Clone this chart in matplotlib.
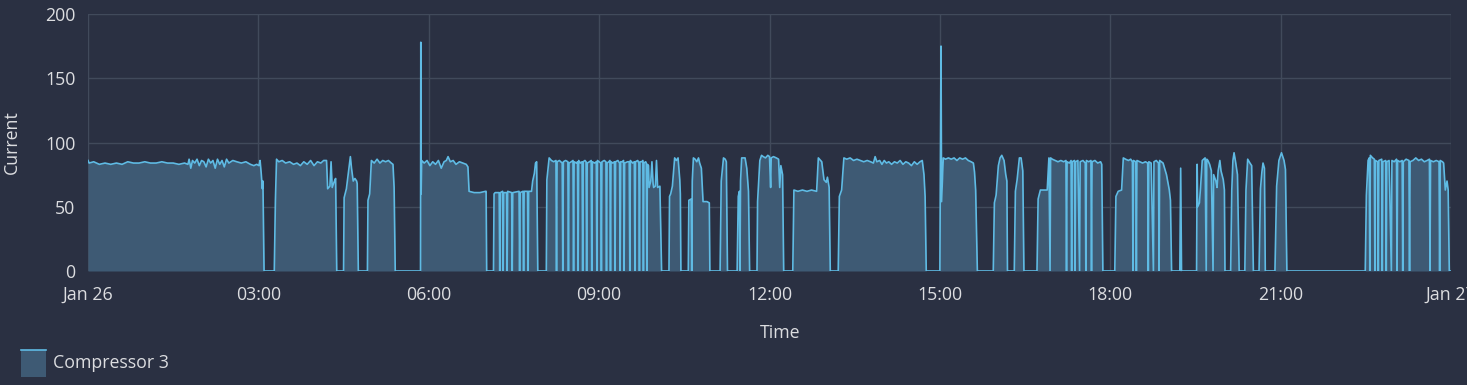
import matplotlib
matplotlib.use("Agg")
import matplotlib.pyplot as plt
from matplotlib.patches import Rectangle
from matplotlib.lines import Line2D
import pandas as pd

# ---------------- data: (hour of day, current) readings, one list per run ----------------
run_a = [(0.00, 86), (0.02, 84), (0.10, 85), (0.20, 83), (0.30, 84), (0.40, 83), (0.50, 84),
         (0.60, 83), (0.70, 85), (0.80, 84), (0.90, 84), (1.00, 85), (1.10, 84), (1.20, 84),
         (1.30, 85), (1.40, 84), (1.50, 84), (1.60, 83), (1.70, 84), (1.76, 83), (1.78, 87),
         (1.81, 80), (1.84, 86), (1.88, 84), (1.92, 87), (1.96, 82), (2.00, 86), (2.04, 85),
         (2.08, 81), (2.12, 87), (2.16, 84), (2.20, 86), (2.24, 80), (2.28, 87), (2.32, 83),
         (2.36, 86), (2.40, 81), (2.44, 87), (2.48, 84), (2.55, 86), (2.62, 85), (2.70, 84),
         (2.78, 85), (2.86, 83), (2.92, 82), (2.97, 83), (3.01, 82), (3.03, 86), (3.05, 76),
         (3.07, 64), (3.08, 70), (3.10, 0)]
run_b = [(3.28, 0), (3.30, 55), (3.32, 87), (3.36, 85), (3.42, 86), (3.48, 84), (3.55, 85),
         (3.62, 83), (3.68, 84), (3.74, 82), (3.80, 85), (3.86, 83), (3.92, 86), (3.98, 82),
         (4.04, 85), (4.10, 84), (4.15, 86), (4.20, 86), (4.22, 64), (4.26, 66), (4.28, 85),
         (4.30, 65), (4.34, 70), (4.36, 72), (4.38, 0)]
run_c = [(4.50, 0), (4.51, 57), (4.55, 64), (4.59, 78), (4.62, 89), (4.64, 80), (4.67, 70),
         (4.70, 72), (4.73, 70), (4.74, 68), (4.76, 0)]
run_d = [(4.92, 0), (4.93, 55), (4.96, 60), (4.99, 86), (5.04, 84), (5.09, 87), (5.14, 84),
         (5.19, 86), (5.24, 85), (5.29, 86), (5.34, 84), (5.37, 83), (5.39, 65), (5.41, 0)]
run_e = [(5.855, 0), (5.86, 178), (5.866, 60), (5.875, 86), (5.92, 84), (5.97, 86), (6.02, 82),
         (6.07, 85), (6.12, 83), (6.17, 86), (6.22, 80), (6.27, 85), (6.31, 86), (6.34, 89),
         (6.38, 85), (6.43, 86), (6.48, 83), (6.54, 85), (6.60, 84), (6.66, 83), (6.69, 81),
         (6.71, 62), (6.80, 61), (6.90, 61), (7.00, 62), (7.01, 62), (7.02, 0)]
run_f = [(7.14, 0), (7.15, 60), (7.17, 61), (7.24, 61), (7.25, 0), (7.26, 61), (7.30, 62),
         (7.31, 0), (7.32, 61), (7.37, 61), (7.38, 0), (7.39, 62), (7.46, 61), (7.47, 0),
         (7.48, 61), (7.59, 62), (7.60, 0), (7.61, 61), (7.66, 62), (7.67, 0), (7.68, 62),
         (7.74, 62), (7.75, 0), (7.76, 62), (7.81, 62), (7.83, 70), (7.86, 76), (7.88, 84),
         (7.90, 85), (7.91, 40), (7.92, 0)]
run_g = [(8.07, 0), (8.08, 71), (8.12, 88), (8.16, 86), (8.20, 85), (8.24, 86), (8.25, 0),
         (8.26, 85), (8.30, 86), (8.35, 84), (8.36, 0), (8.37, 85), (8.41, 86), (8.45, 85),
         (8.46, 0), (8.47, 84), (8.51, 85), (8.54, 86), (8.55, 0), (8.56, 85), (8.60, 84),
         (8.62, 85), (8.63, 0), (8.64, 86), (8.67, 84), (8.70, 85), (8.71, 0), (8.72, 85),
         (8.75, 86), (8.77, 85), (8.78, 0), (8.79, 84), (8.83, 85), (8.86, 86), (8.87, 0),
         (8.88, 85), (8.92, 84), (8.95, 85), (8.96, 0), (8.97, 86), (9.00, 85), (9.03, 84),
         (9.04, 0), (9.05, 85), (9.09, 86), (9.12, 85), (9.13, 0), (9.14, 84), (9.17, 85),
         (9.19, 86), (9.20, 0), (9.21, 85), (9.24, 84), (9.27, 85), (9.28, 0), (9.29, 85),
         (9.33, 86), (9.36, 84), (9.37, 0), (9.38, 85), (9.41, 85), (9.43, 86), (9.44, 0),
         (9.45, 84), (9.50, 85), (9.53, 85), (9.54, 0), (9.55, 86), (9.59, 84), (9.62, 85),
         (9.63, 0), (9.64, 85), (9.68, 86), (9.70, 84), (9.71, 0), (9.72, 85), (9.75, 85),
         (9.77, 86), (9.78, 0), (9.79, 84), (9.82, 85), (9.83, 84), (9.84, 0), (9.85, 83),
         (9.87, 82), (9.88, 65), (9.91, 70), (9.93, 85), (9.95, 68), (9.96, 65), (9.99, 66),
         (10.01, 86), (10.03, 65), (10.07, 66), (10.10, 0)]
run_h = [(10.23, 0), (10.24, 58), (10.26, 60), (10.29, 66), (10.33, 88), (10.36, 86),
         (10.39, 88), (10.42, 71), (10.43, 60), (10.44, 0)]
run_i = [(10.57, 0), (10.58, 55), (10.62, 56), (10.63, 0), (10.64, 70), (10.66, 88),
         (10.69, 87), (10.72, 85), (10.75, 88), (10.77, 84), (10.80, 80), (10.83, 54),
         (10.90, 54), (10.94, 53), (10.95, 0)]
run_j = [(11.13, 0), (11.15, 70), (11.19, 88), (11.22, 87), (11.24, 85), (11.26, 0)]
run_k = [(11.43, 0), (11.45, 58), (11.47, 62), (11.48, 0), (11.49, 70), (11.51, 88),
         (11.57, 88), (11.60, 80), (11.63, 62), (11.65, 0)]
run_l = [(11.78, 0), (11.79, 54), (11.83, 86), (11.86, 90), (11.89, 89), (11.93, 88),
         (11.97, 90), (12.00, 89), (12.02, 65), (12.03, 88), (12.07, 89), (12.12, 88),
         (12.16, 87), (12.18, 65), (12.20, 82), (12.23, 75), (12.25, 0)]
run_m = [(12.41, 0), (12.43, 63), (12.50, 62), (12.58, 63), (12.66, 62), (12.74, 63),
         (12.83, 62), (12.86, 88), (12.90, 86), (12.92, 85), (12.96, 71), (13.00, 69),
         (13.02, 73), (13.05, 65), (13.07, 0)]
run_n = [(13.21, 0), (13.23, 58), (13.27, 63), (13.31, 88), (13.36, 87), (13.42, 88),
         (13.48, 86), (13.54, 87), (13.60, 86), (13.66, 85), (13.72, 86), (13.78, 85),
         (13.83, 84), (13.86, 89), (13.89, 85), (13.94, 86), (13.98, 83), (14.02, 86),
         (14.06, 84), (14.10, 85), (14.15, 83), (14.20, 85), (14.25, 84), (14.30, 86),
         (14.35, 83), (14.40, 85), (14.45, 84), (14.50, 82), (14.55, 85), (14.60, 83),
         (14.65, 85), (14.69, 86), (14.72, 75), (14.74, 58), (14.76, 0)]
run_o = [(15.00, 0), (15.02, 175), (15.03, 54), (15.06, 88), (15.10, 87), (15.15, 88),
         (15.20, 87), (15.25, 88), (15.30, 86), (15.35, 88), (15.40, 87), (15.45, 88),
         (15.50, 86), (15.55, 85), (15.59, 84), (15.61, 77), (15.63, 63), (15.66, 0)]
run_p = [(15.94, 0), (15.96, 53), (15.99, 59), (16.03, 82), (16.06, 88), (16.09, 90),
         (16.13, 86), (16.16, 75), (16.18, 70), (16.19, 0)]
run_q = [(16.31, 0), (16.33, 62), (16.36, 71), (16.40, 88), (16.43, 88), (16.46, 78), (16.48, 0)]
run_r = [(16.71, 0), (16.73, 56), (16.77, 63), (16.89, 63), (16.92, 88), (16.94, 0),
         (16.95, 88), (16.98, 87), (17.03, 86), (17.08, 85), (17.13, 86), (17.18, 85),
         (17.22, 86), (17.23, 0), (17.24, 85), (17.28, 84), (17.31, 86), (17.32, 0),
         (17.33, 85), (17.37, 86), (17.38, 0), (17.39, 85), (17.43, 86), (17.46, 0),
         (17.47, 85), (17.52, 86), (17.56, 84), (17.57, 0), (17.58, 86), (17.62, 85),
         (17.66, 86), (17.67, 0), (17.68, 85), (17.73, 86), (17.78, 84), (17.83, 85),
         (17.85, 83), (17.87, 0)]
run_s = [(18.08, 0), (18.10, 58), (18.14, 62), (18.20, 63), (18.23, 88), (18.27, 87),
         (18.32, 86), (18.36, 87), (18.39, 85), (18.40, 0), (18.41, 86), (18.45, 85),
         (18.46, 0), (18.47, 86), (18.52, 85), (18.57, 84), (18.62, 85), (18.66, 84),
         (18.67, 0), (18.68, 85), (18.72, 84), (18.76, 0), (18.77, 85), (18.81, 86),
         (18.85, 84), (18.86, 0), (18.87, 86), (18.93, 84), (18.99, 75), (19.04, 63),
         (19.06, 55), (19.08, 0)]
run_t = [(19.225, 0), (19.24, 80), (19.255, 0)]
run_u = [(19.52, 0), (19.53, 83), (19.54, 50), (19.57, 53), (19.59, 65), (19.62, 86),
         (19.67, 88), (19.69, 0), (19.70, 87), (19.72, 86), (19.75, 83), (19.78, 78),
         (19.81, 0), (19.82, 75), (19.86, 70), (19.88, 65), (19.90, 78), (19.93, 86),
         (19.95, 78), (19.99, 71), (20.01, 63), (20.02, 0)]
run_v = [(20.12, 0), (20.14, 63), (20.16, 86), (20.18, 92), (20.21, 84), (20.24, 75), (20.27, 0)]
run_w = [(20.37, 0), (20.39, 63), (20.42, 87), (20.46, 84), (20.49, 82), (20.52, 0)]
run_x = [(20.62, 0), (20.645, 64), (20.67, 77), (20.69, 84), (20.715, 80), (20.73, 0)]
run_y = [(20.90, 0), (20.93, 66), (20.97, 86), (21.015, 92), (21.06, 86), (21.085, 79), (21.11, 0)]
run_z = [(22.49, 0), (22.51, 59), (22.54, 86), (22.56, 88), (22.57, 0), (22.58, 90),
         (22.62, 88), (22.65, 87), (22.66, 0), (22.67, 86), (22.71, 85), (22.72, 0),
         (22.73, 86), (22.78, 87), (22.79, 0), (22.80, 85), (22.85, 86), (22.86, 0),
         (22.87, 85), (22.91, 86), (22.95, 0), (22.96, 86), (23.00, 85), (23.04, 87),
         (23.05, 0), (23.06, 86), (23.10, 85), (23.14, 86), (23.15, 0), (23.16, 85),
         (23.21, 87), (23.26, 86), (23.27, 0), (23.28, 85), (23.33, 86), (23.38, 88),
         (23.43, 86), (23.48, 87), (23.53, 85), (23.58, 86), (23.62, 87), (23.63, 0),
         (23.64, 86), (23.69, 85), (23.74, 86), (23.79, 85), (23.80, 0), (23.81, 86),
         (23.85, 85), (23.87, 84), (23.90, 63), (23.93, 70), (23.95, 63), (23.97, 0),
         (24.00, 0)]

runs = [run_a, run_b, run_c, run_d, run_e, run_f, run_g, run_h, run_i, run_j, run_k, run_l,
        run_m, run_n, run_o, run_p, run_q, run_r, run_s, run_t, run_u, run_v, run_w, run_x,
        run_y, run_z]

start_day = "2024-01-26"
tick_hours = [0, 3, 6, 9, 12, 15, 18, 21, 24]
tick_labels = ["Jan 26", "03:00", "06:00", "09:00", "12:00", "15:00", "18:00", "21:00", "Jan 27"]
y_ticks = [0, 50, 100, 150, 200]
series_name = "Compressor 3"

# ---------------- styling ----------------
BG = "#2a3042"
FILL = "#3e5a74"
LINE = "#5fbbe4"
GRID = "#414a5b"
TEXT = "#dcdde0"
FS = 12.8
plt.rcParams["font.family"] = ["Open Sans", "DejaVu Sans"]

pairs = [p for r in runs for p in r]
hours = [p[0] for p in pairs]
current = [p[1] for p in pairs]
base = pd.Timestamp(start_day)
times = base + pd.to_timedelta(hours, unit="h")

fig = plt.figure(figsize=(14.67, 3.85), dpi=100, facecolor=BG)
ax = fig.add_axes([88 / 1467, 1 - 271 / 385, (1451 - 88) / 1467, (271 - 14) / 385])
ax.set_facecolor(BG)

ax.fill_between(times, current, 0, color=FILL, linewidth=0, zorder=2)
ax.plot(times, current, color=LINE, lw=1.2, zorder=3)

ax.set_xlim(base, base + pd.Timedelta(hours=24))
ax.set_ylim(0, 200)
ax.set_xticks([base + pd.Timedelta(hours=h) for h in tick_hours])
ax.set_xticklabels(tick_labels)
ax.set_yticks(y_ticks)

ax.grid(True, color=GRID, lw=1.0, zorder=0)
for s in ax.spines.values():
    s.set_visible(False)
ax.tick_params(axis="both", length=0, colors=TEXT, labelsize=FS)
ax.tick_params(axis="x", pad=10.5)
ax.tick_params(axis="y", pad=9)
for lab in ax.get_xticklabels() + ax.get_yticklabels():
    lab.set_color(TEXT)

ax.set_xlabel("Time", color=TEXT, fontsize=FS)
ax.set_ylabel("Current", color=TEXT, fontsize=FS)
ax.xaxis.set_label_coords(0.508, -0.205)
ax.yaxis.set_label_coords(-0.049, 0.5)

# legend
lx0, ly0, lw_, lh_ = 21 / 1467, 1 - 377 / 385, 25 / 1467, 27 / 385
fig.patches.append(Rectangle((lx0, ly0), lw_, lh_, transform=fig.transFigure,
                             facecolor=FILL, edgecolor="none"))
fig.lines.append(Line2D([lx0, lx0 + lw_], [ly0 + lh_, ly0 + lh_], transform=fig.transFigure,
                        color=LINE, lw=1.2))
fig.text(53 / 1467, 1 - 363 / 385, series_name, color=TEXT, fontsize=FS, va="center", ha="left")

fig.savefig("out.png", dpi=100, facecolor=BG)
